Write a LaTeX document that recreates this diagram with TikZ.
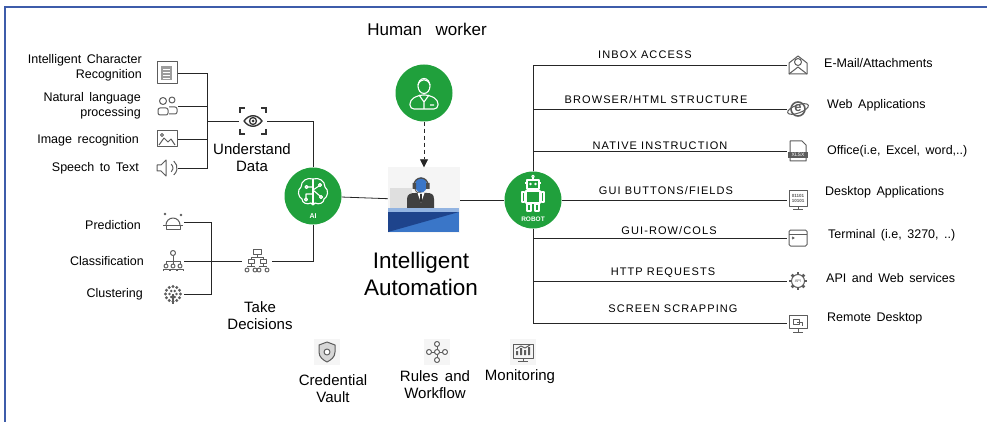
\documentclass[tikz,border=0pt]{standalone}
\usepackage{fontspec}
\setmainfont{Liberation Sans}[WordSpace=1.6]
\newfontfamily\capsfont{Liberation Sans}[LetterSpace=10]
\usetikzlibrary{positioning,arrows.meta}

\definecolor{aigreen}{RGB}{32,160,60}
\definecolor{framebl}{RGB}{62,92,170}
\definecolor{icongray}{RGB}{92,92,92}
\definecolor{deskblue}{RGB}{58,118,200}
\definecolor{desknavy}{RGB}{30,68,140}

\tikzset{
  wire/.style={line width=0.8pt, black!85},
  hub/.style={circle, fill=aigreen, minimum size=57, inner sep=0pt},
  icon/.style={minimum size=22, inner sep=0pt},
  lbl/.style={font=\fontsize{12.5}{15}\selectfont, align=right, anchor=east, inner sep=0pt},
  app/.style={font=\fontsize{12.5}{15}\selectfont, anchor=west, inner sep=0pt},
  chan/.style={font=\capsfont\fontsize{11}{13}\selectfont, inner sep=0pt},
  big/.style={font=\fontsize{15}{17}\selectfont, align=center, inner sep=0pt},
  gly/.style={icongray, line width=1pt, line join=round},
  wht/.style={white, line width=1.1pt, line join=round},
  % small line icons
  doc/.pic={
    \draw[gly] (-10,-11) rectangle (10,11);
    \fill[icongray!60] (-6,-7) rectangle (5,7);
    \foreach \yy in {-4,-1,2,5} \draw[white, line width=0.6pt] (-4,\yy) -- (3,\yy);
  },
  talk/.pic={
    \draw[gly] (-4,-5) circle (3.5);
    \draw[gly] (5,-6) circle (3);
    \draw[gly, rounded corners=2] (-9,9) -- (-9,2) -- (1,2) -- (1,9) -- cycle;
    \draw[gly, rounded corners=2] (2,1) -- (10,1) -- (10,8) -- (2,8);
  },
  photo/.pic={
    \draw[gly] (-10,-8) rectangle (10,8);
    \draw[gly] (-8,6) -- (-3,-1) -- (1,3) -- (4,0) -- (8,6);
    \draw[gly] (-5,-4) circle (1.5);
  },
  speaker/.pic={
    \draw[gly] (-10,-3) -- (-6,-3) -- (-1,-8) -- (-1,8) -- (-6,3) -- (-10,3) -- cycle;
    \draw[gly] (4.2,-3.8) arc (-50:50:5);
    \draw[gly] (6.8,-6.9) arc (-50:50:9);
  },
  eye/.pic={
    \draw[black!80, line width=1.3pt] (-13,-8) -- (-13,-13) -- (-8,-13) (8,-13) -- (13,-13) -- (13,-8)
      (13,8) -- (13,13) -- (8,13) (-8,13) -- (-13,13) -- (-13,8);
    \draw[black!80, line width=1.4pt] (-9,0) .. controls (-4,-7) and (4,-7) .. (9,0) .. controls (4,7) and (-4,7) .. (-9,0);
    \draw[black!80, line width=1.3pt] (0,0) circle (3.5);
    \fill[black!80] (0,0) circle (1.5);
  },
  ball/.pic={
    \draw[gly] (-7,3) arc (180:360:7);
    \draw[gly] (-10,3) -- (10,3);
    \draw[gly] (-7,3) -- (-7,7) -- (7,7) -- (7,3);
    \fill[icongray] (-8,-8) circle (1.3) (8,-7) circle (1.3);
  },
  people/.pic={
    \draw[gly] (0,-8) circle (2.5);
    \draw[gly] (0,-5) -- (0,0) (-7,0) -- (7,0) (-7,0) -- (-7,3) (0,0) -- (0,3) (7,0) -- (7,3);
    \foreach \xx in {-7,0,7} {
      \draw[gly] (\xx,5) circle (2);
      \draw[gly] (\xx-3,10) -- (\xx-3,8) -- (\xx+3,8) -- (\xx+3,10);
    }
  },
  cluster/.pic={
    \foreach \a in {0,30,...,330} \fill[icongray] (\a:7.5) circle (1.7);
    \foreach \a in {0,60,...,300} \fill[icongray] (\a:3.5) circle (1.4);
    \draw[gly, line width=1.4pt] (0,0) -- (0,10);
  },
  decide/.pic={
    \draw[gly] (-4,-12) rectangle (4,-7);
    \draw[gly] (0,-7) -- (0,-4) (-6,-4) -- (6,-4) (-6,-4) -- (-6,-2) (6,-4) -- (6,-2);
    \draw[gly] (-9,-2) rectangle (-3,2) (3,-2) rectangle (9,2);
    \draw[gly] (-6,2) -- (-6,5) (6,2) -- (6,5) (-10,5) -- (-2,5) (2,5) -- (10,5);
    \foreach \xx in {-10,-2,2,10} \draw[gly] (\xx,9) circle (2);
  },
  mail/.pic={
    \draw[gly] (-9,-2) -- (0,-9) -- (9,-2) -- (9,9) -- (-9,9) -- cycle;
    \draw[gly] (-9,9) -- (0,2) -- (9,9);
    \draw[gly] (0,-3) circle (3.5);
  },
  web/.pic={
    \draw[gly, line width=1.6pt] (0,0) circle (7);
    \draw[gly, rotate=20] (0,0) ellipse (11 and 4);
    \node[icongray, font=\bfseries\fontsize{13}{13}\selectfont] at (0,-0.5) {e};
  },
  xlsx/.pic={
    \draw[gly] (-8,-10) -- (4,-10) -- (8,-6) -- (8,10) -- (-8,10) -- cycle;
    \fill[icongray] (-10,1) rectangle (10,7);
    \node[white, font=\fontsize{5}{5}\selectfont] at (0,4) {XLSX};
  },
  bincode/.pic={
    \draw[gly] (-9,-9) rectangle (9,6);
    \draw[gly] (0,6) -- (0,9) (-5,9) -- (5,9);
    \node[icongray, font=\bfseries\fontsize{4.5}{4.5}\selectfont, align=center, inner sep=0pt] at (0,-1.5) {01101\\10101};
  },
  term/.pic={
    \draw[gly, rounded corners=1.5] (-9,-8) rectangle (9,8);
    \draw[gly] (-9,-4) -- (9,-4);
    \draw[gly] (-6,-1) -- (-4,0) -- (-6,1);
  },
  api/.pic={
    \foreach \a in {0,45,...,315} \draw[gly, line width=2.6pt] (\a:6) -- (\a:9);
    \draw[gly, fill=white] (0,0) circle (6.5);
    \node[icongray, font=\fontsize{4}{4}\selectfont] at (0,0) {API};
  },
  remote/.pic={
    \draw[gly] (-9,-8) rectangle (9,5);
    \draw[gly] (0,5) -- (0,9) (-5,9) -- (5,9);
    \draw[gly] (-5,-4) rectangle (1,1);
    \draw[gly] (-1,-1) -- (4,-1) -- (4,3);
  },
  shield/.pic={
    \draw[gly, fill=icongray!25] (0,-10) -- (8,-7) -- (8,0) .. controls (8,5) and (4,8) .. (0,10)
      .. controls (-4,8) and (-8,5) .. (-8,0) -- (-8,-7) -- cycle;
    \draw[gly, fill=white] (0,0) circle (3);
  },
  network/.pic={
    \draw[gly] (0,-8) -- (0,8) (-8,0) -- (8,0);
    \foreach \p in {(0,-8),(8,0),(0,8),(-8,0)} \draw[gly, fill=white] \p circle (2.5);
    \draw[gly, fill=white] (0,0) circle (2.5);
  },
  chartmon/.pic={
    \draw[gly] (-10,-8) rectangle (10,6);
    \draw[gly] (0,6) -- (0,9) (-5,9) -- (5,9);
    \fill[icongray] (-7,3) rectangle (-5,-1) (-3,3) rectangle (-1,-4) (1,3) rectangle (3,-2) (5,3) rectangle (7,-5);
    \draw[gly] (-7,-3) -- (-2,-6) -- (2,-4) -- (7,-7);
  },
  % white glyphs on the green hubs
  person/.pic={
    \draw[wht] (0,-7) ellipse (6 and 7.5);
    \draw[wht] (-6,-8) .. controls (-4,-15) and (4,-15) .. (6,-8);
    \draw[wht, rounded corners=4] (-14,16) -- (-14,7) -- (-5,2) -- (5,2) -- (14,7) -- (14,16) -- cycle;
    \draw[wht] (-5,2) -- (0,9) -- (5,2) (0,9) -- (0,16) (6,12) -- (10,12);
  },
  brain/.pic={
    \draw[wht] (0,-17) .. controls (-6,-19) and (-12,-15) .. (-12,-9) .. controls (-16,-6) and (-15,1) .. (-11,3)
      .. controls (-11,7) and (-6,9) .. (-2,7) -- (0,9);
    \draw[wht] (0,-17) .. controls (6,-19) and (12,-15) .. (12,-9) .. controls (16,-6) and (15,1) .. (11,3)
      .. controls (11,7) and (6,9) .. (2,7) -- (0,9);
    \draw[wht] (0,-17) -- (0,9);
    \draw[wht] (0,-9) -- (-5,-9) (0,-2) -- (-7,-2) -- (-7,2) (0,-6) -- (6,-10) (0,-6) -- (7,0);
    \foreach \p in {(-6.5,-9),(-7,3.5),(7,-11),(8,1)} \draw[wht, fill=aigreen] \p circle (1.5);
  },
  robo/.pic={
    \draw[wht] (-6,-20) rectangle (6,-11);
    \draw[wht] (0,-20) -- (0,-22);
    \draw[wht] (0,-23.5) circle (1.3);
    \fill[white] (-2.5,-16) circle (1.3) (2.5,-16) circle (1.3);
    \draw[wht] (-8,-17) -- (-6,-17) (6,-17) -- (8,-17);
    \draw[wht] (-7,-9) rectangle (7,3);
    \draw[wht] (-11,-8) rectangle (-8.5,2) (8.5,-8) rectangle (11,2);
    \draw[wht] (-6,4) rectangle (-2,11) (2,4) rectangle (6,11);
  },
  % operator at the desk
  agent/.pic={
    \fill[gray!25] (-34,-12) rectangle (-12,8);
    \fill[black!75] (-17,8) -- (-17,-1) .. controls (-17,-6) and (-13,-7) .. (-9,-7) -- (3,-7)
      .. controls (7,-7) and (10,-6) .. (10,-1) -- (10,8) -- cycle;
    \fill[white] (-6.5,-7) -- (0.5,-7) -- (-3,3) -- cycle;
    \fill[black!80] (-3.8,-6) -- (-2.2,-6) -- (-1.9,1) -- (-3,3) -- (-4.1,1) -- cycle;
    \fill[deskblue] (-3,-15) ellipse (6 and 7.5);
    \draw[black!70, line width=1.3pt] (-10,-15) arc (180:360:7);
    \fill[black!70] (-11.5,-17) rectangle (-8,-11) (2,-17) rectangle (5.5,-11);
    \draw[black!70, line width=0.8pt] (-9,-11) .. controls (-8,-7) and (-5,-7) .. (-3,-8);
    \fill[deskblue!55!white] (-36,8) rectangle (35,12);
    \fill[deskblue] (-36,12) rectangle (35,32);
    \fill[desknavy] (-36,12) -- (35,12) -- (-36,32) -- cycle;
  },
}

\begin{document}
\begin{tikzpicture}[x=1pt, y=-1pt]
    \useasboundingbox (0,0) rectangle (987,422);

    % Frame
    \draw[framebl, line width=1.3pt] (5,422) -- (5,7) -- (987,7);

    % Hubs
    \node[hub] (human) at (424,93) {};
    \node[hub] (ai) at (313,196) {};
    \node[hub] (robot) at (533,200) {};
    \node[fill=gray!8, minimum width=72, minimum height=65, inner sep=0pt] (desk) at (424,200) {};
    \pic at (human) {person};
    \pic at (ai) {brain};
    \pic at (robot) {robo};
    \pic at (desk) {agent};
    \node[white, font=\bfseries\fontsize{7}{7}\selectfont] at (313,216) {AI};
    \node[white, font=\bfseries\fontsize{6.5}{7}\selectfont] at (533,219) {ROBOT};

    % Titles
    \node[font=\fontsize{17}{20}\selectfont] (hwlbl) at (427,29) {Human\hspace{0.8em}worker};
    \node[font=\fontsize{22.5}{27}\selectfont, align=center] (ialbl) at (421,274) {Intelligent\\Automation};

    % Understand data
    \node[icon] (icr) at (167,73) {};
    \node[icon] (nlp) at (167,106) {};
    \node[icon] (img) at (167,139) {};
    \node[icon] (spk) at (167,168) {};
    \node[icon, minimum size=28] (eye) at (253,121) {};
    \pic at (icr) {doc};
    \pic at (nlp) {talk};
    \pic at (img) {photo};
    \pic at (spk) {speaker};
    \pic at (eye) {eye};
    \node[lbl] (icrlbl) at (142,68) {Intelligent Character\\Recognition};
    \node[lbl] (nlplbl) at (141,106) {Natural language\\processing};
    \node[lbl] (imglbl) at (139,140) {Image recognition};
    \node[lbl] (spklbl) at (139,168) {Speech to Text};
    \node[big] (udlbl) at (252,158) {Understand\\Data};
    \coordinate (ubus) at (207,121);

    % Take decisions
    \node[icon] (pred) at (173,222) {};
    \node[icon] (class) at (173,261) {};
    \node[icon] (clus) at (173,294) {};
    \node[icon, minimum size=30] (decide) at (257,261) {};
    \pic at (pred) {ball};
    \pic at (class) {people};
    \pic at (clus) {cluster};
    \pic at (decide) {decide};
    \node[lbl] (predlbl) at (141,225) {Prediction};
    \node[lbl] (classlbl) at (144,261) {Classification};
    \node[lbl] (cluslbl) at (143,294) {Clustering};
    \node[big] (tdlbl) at (260,316) {Take\\Decisions};
    \coordinate (dbus) at (211,260);

    % Applications
    \node[icon] (mail) at (798,65) {};
    \node[icon] (web) at (798,109) {};
    \node[icon] (office) at (798,151) {};
    \node[icon] (desktop) at (798,200) {};
    \node[icon] (term) at (798,238) {};
    \node[icon] (api) at (798,281) {};
    \node[icon] (remote) at (798,323) {};
    \pic at (mail) {mail};
    \pic at (web) {web};
    \pic at (office) {xlsx};
    \pic at (desktop) {bincode};
    \pic at (term) {term};
    \pic at (api) {api};
    \pic at (remote) {remote};
    \node[app] at (824,63) {E-Mail/Attachments};
    \node[app] at (827,105) {Web Applications};
    \node[app] at (827,151) {Office(i.e, Excel, word,..)};
    \node[app] at (825,192) {Desktop Applications};
    \node[app] at (828,235) {Terminal (i.e, 3270, ..)};
    \node[app] at (826,278) {API and Web services};
    \node[app] at (827,318) {Remote Desktop};

    % Channels
    \node[chan] at (645,55) {INBOX ACCESS};
    \node[chan] at (656,100) {BROWSER/HTML STRUCTURE};
    \node[chan] at (660,146) {NATIVE INSTRUCTION};
    \node[chan] at (666,191) {GUI BUTTONS/FIELDS};
    \node[chan] at (669,231) {GUI-ROW/COLS};
    \node[chan] at (663,273) {HTTP REQUESTS};
    \node[chan] at (673,309) {SCREEN SCRAPPING};

    % Platform services
    \node[icon, fill=gray!8, minimum size=26] (vault) at (327,352) {};
    \node[icon, fill=gray!8, minimum size=26] (rules) at (437,352) {};
    \node[icon, fill=gray!8, minimum size=26] (monitor) at (523,352) {};
    \pic at (vault) {shield};
    \pic at (rules) {network};
    \pic at (monitor) {chartmon};
    \node[big] (vaultlbl) at (333,389) {Credential\\Vault};
    \node[big] (ruleslbl) at (435,385) {Rules and\\Workflow};
    \node[big] (monlbl) at (520,377) {Monitoring};

    % Wires
    \draw[wire] (icr.east) -| (ubus);
    \draw[wire] (nlp.east) -| (ubus);
    \draw[wire] (img.east) -| (ubus);
    \draw[wire] (spk.east) -| (ubus);
    \draw[wire] (ubus) -- (eye);
    \draw[wire] (eye.east) -| (ai.north);
    \draw[wire] (pred.east) -| (dbus);
    \draw[wire] (clus.east) -| (dbus);
    \draw[wire] (class.east) -- (decide.west);
    \draw[wire] (decide.east) -| (ai.south);
    \draw[wire] (ai) -- (desk);
    \draw[wire] (desk) -- (robot);
    \draw[wire, dash pattern=on 4pt off 3pt, -{Triangle[length=8,width=8]}] (human) -- (desk);
    \foreach \app in {mail,web,office,term,api,remote}
        \draw[wire] (robot) |- (\app.west);
    \draw[wire] (robot) -- (desktop.west);
\end{tikzpicture}
\end{document}
